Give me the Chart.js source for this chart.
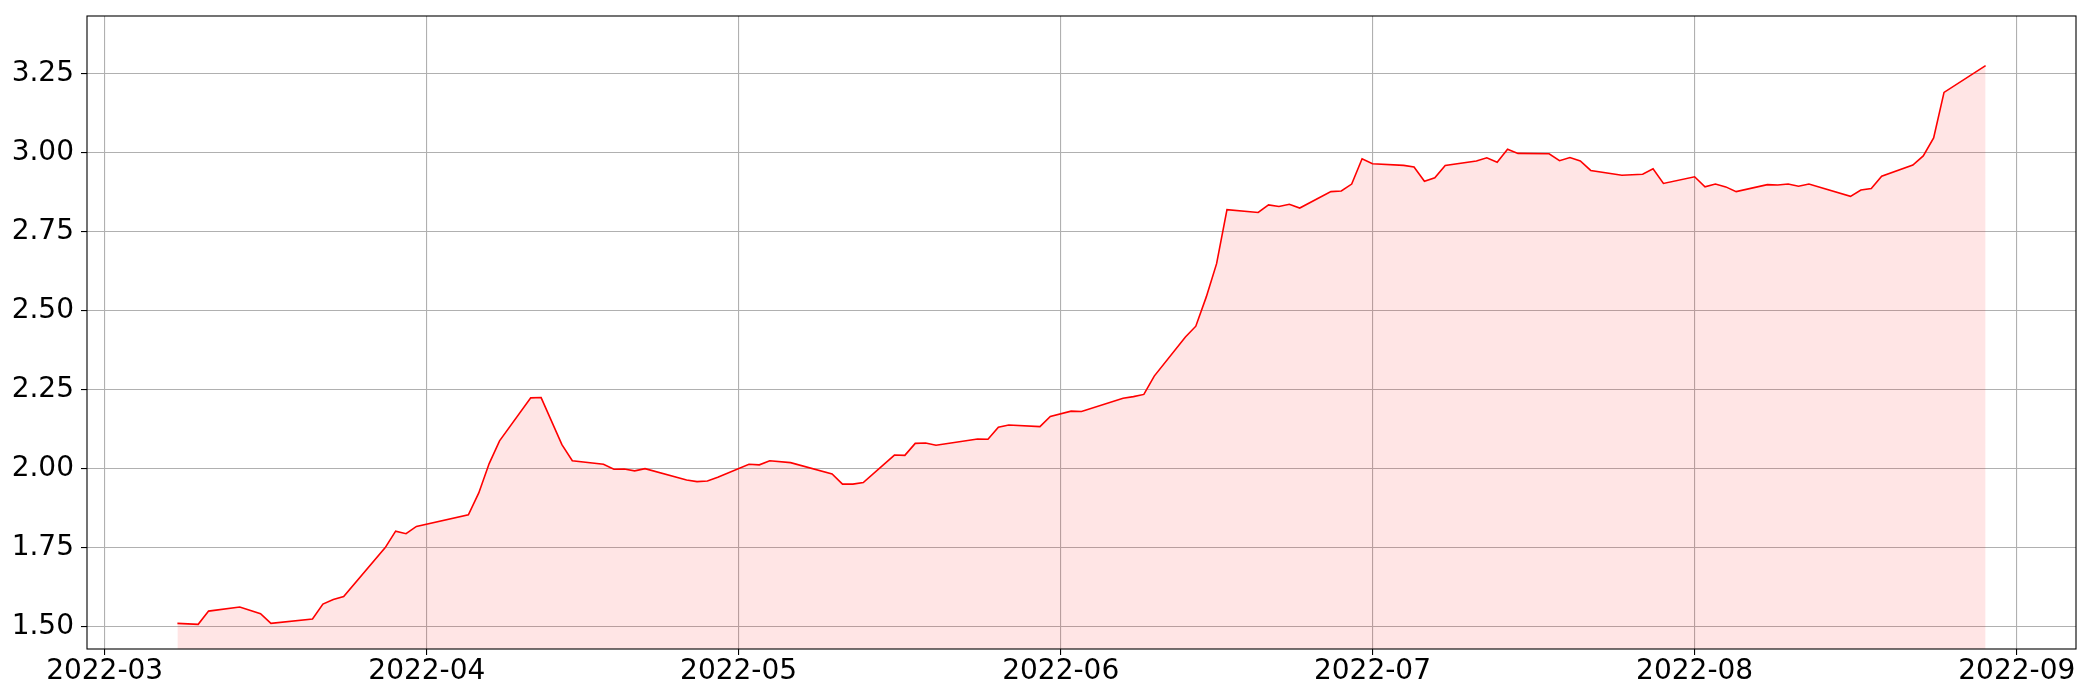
<!DOCTYPE html>
<html>
<head>
<meta charset="utf-8">
<script src="https://cdn.jsdelivr.net/npm/chart.js@4.4.1/dist/chart.umd.min.js"></script>
<style>
  html, body { margin: 0; padding: 0; background: #ffffff; }
  canvas { display: block; }
</style>
</head>
<body>
<canvas id="myChart" width="2100" height="700"></canvas>
<script>
// values (vertices of the line)
const dates = [
  '2022-03-08','2022-03-10','2022-03-11','2022-03-14','2022-03-16','2022-03-17','2022-03-21','2022-03-22',
  '2022-03-23','2022-03-24','2022-03-28','2022-03-29','2022-03-30','2022-03-31','2022-04-05','2022-04-06',
  '2022-04-07','2022-04-08','2022-04-11','2022-04-12','2022-04-14','2022-04-15','2022-04-18','2022-04-19',
  '2022-04-20','2022-04-21','2022-04-22','2022-04-26','2022-04-27','2022-04-28','2022-04-29','2022-05-02',
  '2022-05-03','2022-05-04','2022-05-06','2022-05-10','2022-05-11','2022-05-12','2022-05-13','2022-05-16',
  '2022-05-17','2022-05-18','2022-05-19','2022-05-20','2022-05-24','2022-05-25','2022-05-26','2022-05-27',
  '2022-05-30','2022-05-31','2022-06-02','2022-06-03','2022-06-07','2022-06-08','2022-06-09','2022-06-10',
  '2022-06-13','2022-06-14','2022-06-15','2022-06-16','2022-06-17','2022-06-20','2022-06-21','2022-06-22',
  '2022-06-23','2022-06-24','2022-06-27','2022-06-28','2022-06-29','2022-06-30','2022-07-01','2022-07-04',
  '2022-07-05','2022-07-06','2022-07-07','2022-07-08','2022-07-11','2022-07-12','2022-07-13','2022-07-14',
  '2022-07-15','2022-07-18','2022-07-19','2022-07-20','2022-07-21','2022-07-22','2022-07-25','2022-07-27',
  '2022-07-28','2022-07-29','2022-08-01','2022-08-02','2022-08-03','2022-08-04','2022-08-05','2022-08-08',
  '2022-08-09','2022-08-10','2022-08-11','2022-08-12','2022-08-16','2022-08-17','2022-08-18','2022-08-19',
  '2022-08-22','2022-08-23','2022-08-24','2022-08-25','2022-08-29'
];
const values = [
  1.510, 1.507, 1.549, 1.562, 1.541, 1.510, 1.524, 1.571,
  1.586, 1.595, 1.750, 1.802, 1.794, 1.817, 1.854, 1.923,
  2.016, 2.088, 2.224, 2.225, 2.076, 2.025, 2.014, 1.998,
  1.999, 1.993, 2.000, 1.964, 1.959, 1.961, 1.973, 2.014,
  2.012, 2.025, 2.019, 1.983, 1.951, 1.951, 1.956, 2.043,
  2.042, 2.080, 2.081, 2.074, 2.094, 2.093, 2.131, 2.138,
  2.133, 2.165, 2.182, 2.181, 2.223, 2.228, 2.235, 2.293,
  2.417, 2.451, 2.543, 2.649, 2.820, 2.811, 2.835, 2.830,
  2.837, 2.825, 2.877, 2.879, 2.901, 2.981, 2.965, 2.960,
  2.955, 2.910, 2.921, 2.960, 2.974, 2.984, 2.970, 3.011,
  2.998, 2.997, 2.975, 2.985, 2.974, 2.944, 2.929, 2.932,
  2.949, 2.903, 2.924, 2.892, 2.901, 2.892, 2.877, 2.899,
  2.898, 2.901, 2.894, 2.901, 2.862, 2.882, 2.887, 2.926,
  2.961, 2.990, 3.047, 3.191, 3.276
];
const xTickLabels = ['2022-03','2022-04','2022-05','2022-06','2022-07','2022-08','2022-09'];
const yTickValues = [1.50, 1.75, 2.00, 2.25, 2.50, 2.75, 3.00, 3.25];

// days since 2022-03-01
const base = Date.UTC(2022, 2, 1);
function dayNum(s) {
  const p = s.split('-').map(Number);
  return (Date.UTC(p[0], p[1] - 1, p[2] || 1) - base) / 86400000;
}

const points = dates.map((d, i) => ({ x: dayNum(d), y: values[i] }));
const xTickPos = xTickLabels.map(dayNum);

// matplotlib-like 5% margins
const xFirst = points[0].x, xLast = points[points.length - 1].x;
const xPad = (xLast - xFirst) * 0.05;

var ctx = document.getElementById('myChart').getContext('2d');

const frame = {
  id: 'frame',
  beforeDraw(chart) {
    const c = chart.ctx;
    c.save();
    c.fillStyle = '#ffffff';
    c.fillRect(0, 0, chart.width, chart.height);
    c.restore();
  },
  afterDraw(chart) {
    const a = chart.chartArea;
    const c = chart.ctx;
    c.save();
    c.strokeStyle = '#000000';
    c.lineWidth = 1.1;
    c.strokeRect(a.left, a.top, a.right - a.left, a.bottom - a.top);
    c.restore();
  }
};

const config = {
  type: 'line',
  data: {
    datasets: [{
      data: points,
      borderColor: '#ff0000',
      borderWidth: 1.6,
      backgroundColor: 'rgba(255, 0, 0, 0.1)',
      fill: 'start',
      pointRadius: 0,
      tension: 0
    }]
  },
  options: {
    responsive: false,
    animation: false,
    layout: { padding: { top: 16, right: 24, left: 0, bottom: 0 } },
    plugins: {
      legend: { display: false },
      tooltip: { enabled: false }
    },
    scales: {
      x: {
        type: 'linear',
        min: xFirst - xPad,
        max: xLast + xPad,
        afterBuildTicks: (scale) => { scale.ticks = xTickPos.map(v => ({ value: v })); },
        afterFit: (scale) => { scale.height = 51; scale.paddingLeft = 0; scale.paddingRight = 0; },
        ticks: {
          autoSkip: false,
          maxRotation: 0,
          padding: 0,
          color: '#000000',
          font: { family: 'DejaVu Sans', size: 28 },
          callback: (v) => xTickLabels[xTickPos.indexOf(v)]
        },
        grid: { color: '#b0b0b0', lineWidth: 1.1, tickLength: 6, tickColor: '#000000' },
        border: { display: false }
      },
      y: {
        type: 'linear',
        min: 1.429,
        max: 3.433,
        afterBuildTicks: (scale) => { scale.ticks = yTickValues.map(v => ({ value: v })); },
        afterFit: (scale) => { scale.width = 87; scale.paddingTop = 0; scale.paddingBottom = 0; },
        ticks: {
          padding: 7,
          color: '#000000',
          font: { family: 'DejaVu Sans', size: 28 },
          callback: (v) => v.toFixed(2)
        },
        grid: { color: '#b0b0b0', lineWidth: 1.1, tickLength: 6, tickColor: '#000000' },
        border: { display: false }
      }
    }
  },
  plugins: [frame]
};

var myChart = new Chart(ctx, config);
</script>
</body>
</html>
